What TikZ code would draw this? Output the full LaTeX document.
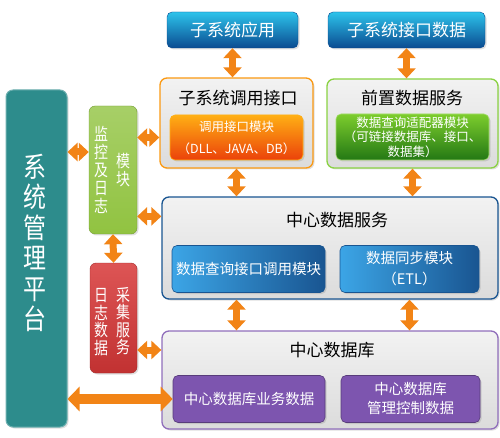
\documentclass[tikz,border=0pt]{standalone}
\usepackage{fontspec}
\setmainfont{Noto Sans CJK SC}
\newfontfamily\narrowcjk[FakeStretch=0.82]{Noto Sans CJK SC}
\usetikzlibrary{arrows.meta,shadows}
\definecolor{appTop}{RGB}{45,195,235}
\definecolor{appBot}{RGB}{10,75,145}
\definecolor{ifcTop}{RGB}{255,175,20}
\definecolor{ifcBot}{RGB}{235,65,10}
\definecolor{preTop}{RGB}{125,205,45}
\definecolor{preBot}{RGB}{35,120,20}
\definecolor{svcLeft}{RGB}{60,165,230}
\definecolor{svcRight}{RGB}{25,85,145}
\definecolor{dbFill}{RGB}{125,85,175}
\definecolor{mgmtFill}{RGB}{45,140,140}
\definecolor{monFill}{RGB}{145,195,65}
\definecolor{logFill}{RGB}{215,55,55}
\definecolor{linkOrange}{RGB}{242,132,22}

\begin{document}
\begin{tikzpicture}[
  x=1pt, y=-1pt,
  soft shadow/.style={drop shadow={opacity=.25,shadow xshift=1.5pt,shadow yshift=-1.5pt}},
  box/.style={rounded corners=5pt, inner sep=1pt, align=center, text=white, soft shadow},
  app box/.style={box, top color=appTop, bottom color=appBot, draw=appBot,
    font=\fontsize{17}{20}\selectfont, minimum height=36pt},
  group box/.style={rounded corners=7pt, line width=1.3pt, top color=white!95!black,
    bottom color=white!86!black, soft shadow},
  module/.style={box, line width=.6pt, minimum height=47pt},
  title/.style={font=\fontsize{17}{20}\selectfont, text=black},
  side text/.style={text=white, align=center, inner sep=0pt},
  link/.style={line width=7pt, draw=linkOrange,
    {Triangle[length=10pt,width=18pt]}-{Triangle[length=10pt,width=18pt]}},
  big link/.style={line width=10pt, draw=linkOrange,
    {Triangle[length=12pt,width=24pt]}-{Triangle[length=12pt,width=24pt]}}
]
\useasboundingbox (0,0) rectangle (500,438);

% top applications
\node[app box, minimum width=131pt] (appA) at (232.5,30) {子系统应用};
\node[app box, minimum width=157pt] (appB) at (406.5,30) {子系统接口数据};

% group boxes
\node[group box, draw=ifcTop!80!ifcBot, minimum width=153pt, minimum height=90pt] (ifc) at (236.5,123) {};
\node[group box, draw=preTop!90!white, minimum width=171pt, minimum height=89pt] (pre) at (412.5,123.5) {};
\node[group box, draw=svcRight, minimum width=336pt, minimum height=102pt] (svc) at (330,248) {};
\node[group box, draw=dbFill!85!white, minimum width=336pt, minimum height=98pt] (db) at (330,380) {};

\node[title] (ifcT) at (238,98) {子系统调用接口};
\node[title] (preT) at (412,98) {前置数据服务};
\node[title] (svcT) at (337,220) {中心数据服务};
\node[title] (dbT) at (332,350) {中心数据库};

% modules
\node[module, top color=ifcTop, bottom color=ifcBot, draw=ifcTop, minimum width=133pt, minimum height=45pt,
  font=\fontsize{12.5}{22}\selectfont] (ifcIn) at (236.5,137.5) {调用接口模块\\（DLL、JAVA、DB）};
\node[module, top color=preTop, bottom color=preBot, draw=preTop!70!white, minimum width=153pt, minimum height=46pt,
  font=\fontsize{12.5}{14.5}\selectfont] (preIn) at (412.5,137) {数据查询适配器模块\\（可链接数据库、接口、\\数据集）};
\node[module, left color=svcLeft, right color=svcRight, draw=svcRight, minimum width=153pt,
  font=\fontsize{14.5}{21}\selectfont] (svcA) at (248.5,269) {数据查询接口调用模块};
\node[module, left color=svcLeft, right color=svcRight, draw=svcRight, minimum width=139pt,
  font=\fontsize{14.5}{21}\selectfont] (svcB) at (409.5,269) {数据同步模块\\（ETL）};
\node[module, fill=dbFill, draw=dbFill!70!black, minimum width=152pt,
  font=\fontsize{14.5}{19}\selectfont] (dbA) at (249,399) {中心数据库业务数据};
\node[module, fill=dbFill, draw=dbFill!70!black, minimum width=139pt,
  font=\fontsize{14.5}{19}\selectfont] (dbB) at (410.5,399) {中心数据库\\管理控制数据};

% left column
\node[box, fill=mgmtFill, draw=mgmtFill!70!white, line width=1pt, rounded corners=7pt,
  minimum width=61pt, minimum height=337pt] (mgmt) at (36.5,258.5) {};
\node[side text, font=\narrowcjk\fontsize{28}{30.5}\selectfont] (mgmtT) at (35,243) {系\\统\\管\\理\\平\\台};
\node[box, top color=monFill!80!white, bottom color=monFill, draw=monFill!80!black, rounded corners=6pt,
  minimum width=48pt, minimum height=128pt] (mon) at (113,170) {};
\node[side text, font=\narrowcjk\fontsize{17}{18}\selectfont] (monL) at (101,170) {监\\控\\及\\日\\志};
\node[side text, font=\narrowcjk\fontsize{17}{18}\selectfont] (monR) at (123,170) {模\\块};
\node[box, top color=logFill!85!white, bottom color=logFill!90!black, draw=logFill!75!black, rounded corners=6pt,
  minimum width=47pt, minimum height=110pt] (log) at (113.5,318) {};
\node[side text, font=\narrowcjk\fontsize{17}{17.5}\selectfont] (logL) at (101,322) {日\\志\\数\\据};
\node[side text, font=\narrowcjk\fontsize{17}{17.5}\selectfont] (logR) at (123,321) {采\\集\\服\\务};

% links
\coordinate (monPort) at ([yshift=18pt]mon.west);
\coordinate (svcPort) at ([yshift=-20pt]svc.north west);
\draw[link] (appA.south) -- (appA.south |- ifc.north);
\draw[link] (appB.south) -- (appB.south |- pre.north);
\draw[link] (ifc.south) -- (ifc.south |- svc.north);
\draw[link] (pre.south) -- (pre.south |- svc.north);
\draw[link] (ifc.south |- svc.south) -- (ifc.south |- db.north);
\draw[link] (svcB.south |- svc.south) -- (svcB.south |- db.north);
\draw[link] (mgmt.east |- monPort) -- (monPort);
\draw[link] (mon.east |- ifcIn.west) -- (ifc.west |- ifcIn.west);
\draw[link] (mon.east |- svcPort) -- (svcPort);
\draw[link] (mon.south) -- (log.north);
\draw[link] (log.east |- dbT) -- (db.west |- dbT);
\draw[big link] (mgmt.east |- dbA.west) -- (dbA.west);
\end{tikzpicture}
\end{document}
